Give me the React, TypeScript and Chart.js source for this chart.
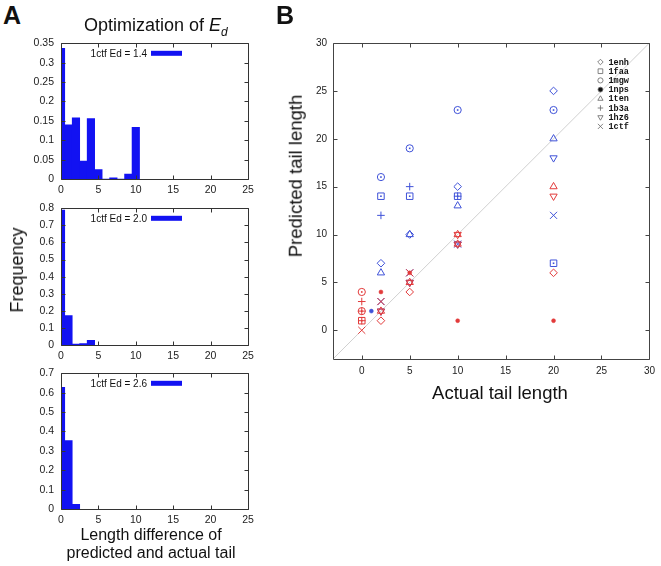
import React, { useEffect, useRef } from 'react';
import { Chart, registerables } from 'chart.js';
import { drawPoint } from 'chart.js/helpers';

Chart.register(...registerables);

// ---------------- data ----------------
const histBins1 = [0, 1, 2, 3, 4, 5, 6, 7, 8, 9, 10];
const histFreq1 = [0.337, 0.14, 0.158, 0.046, 0.156, 0.024, 0, 0.003, 0, 0.013, 0.133];
const histBins2 = [0, 1, 2, 3, 4];
const histFreq2 = [0.79, 0.172, 0.005, 0.008, 0.027];
const histBins3 = [0, 1, 2];
const histFreq3 = [0.627, 0.353, 0.024];
const histLabels = ['1ctf Ed = 1.4', '1ctf Ed = 2.0', '1ctf Ed = 2.6'];
const histXTicks = [0, 5, 10, 15, 20, 25];
const histYTicks1 = [0, 0.05, 0.1, 0.15, 0.2, 0.25, 0.3, 0.35];
const histYTicks2 = [0, 0.1, 0.2, 0.3, 0.4, 0.5, 0.6, 0.7, 0.8];
const histYTicks3 = [0, 0.1, 0.2, 0.3, 0.4, 0.5, 0.6, 0.7];

const scatterTicks = [0, 5, 10, 15, 20, 25, 30];
const scatterMin = -3;
const scatterMax = 30;
const diagonal = [-3, 30];
const proteins = ['1enh', '1faa', '1mgw', '1nps', '1ten', '1b3a', '1hz6', '1ctf'];

// [actual, predicted] — blue series
const blue1enh = [[2, 7], [5, 10], [10, 15], [20, 25]];
const blue1faa = [[2, 14], [5, 14], [10, 14], [20, 7]];
const blue1mgw = [[2, 16], [5, 19], [10, 23], [20, 23]];
const blue1nps = [[1, 2]];
const blue1ten = [[2, 6], [5, 10], [10, 13], [20, 20]];
const blue1b3a = [[2, 12], [5, 15], [10, 14]];
const blue1hz6 = [[2, 2], [5, 5], [10, 9], [20, 18]];
const blue1ctf = [[2, 3], [5, 6], [10, 9], [20, 12]];
// [actual, predicted] — red series
const red1enh = [[2, 1], [5, 4], [20, 6]];
const red1faa = [[0, 1]];
const red1mgw = [[0, 4], [0, 2]];
const red1nps = [[2, 4], [5, 6], [10, 1], [20, 1]];
const red1ten = [[2, 2], [5, 5], [10, 10], [10, 9], [20, 15]];
const red1b3a = [[0, 3], [0, 2], [0, 1]];
const red1hz6 = [[2, 2], [5, 5], [10, 10], [10, 9], [20, 14]];
const red1ctf = [[0, 0], [2, 3], [5, 6]];

const blueSeries = [blue1enh, blue1faa, blue1mgw, blue1nps, blue1ten, blue1b3a, blue1hz6, blue1ctf];
const redSeries = [red1enh, red1faa, red1mgw, red1nps, red1ten, red1b3a, red1hz6, red1ctf];

// ---------------- styles ----------------
const FONT = '"Liberation Sans", Arial, Helvetica, sans-serif';
const HIST_BLUE = '#1212f2';
const BLUE = '#3f52d8';
const RED = '#e23a3a';
const FRAME = '#333';

const shapes: Record<string, any> = {
  '1enh': { pointStyle: 'rectRot', radius: 3.8, rotation: 0, dot: false },
  '1faa': { pointStyle: 'rect', radius: 4.6, rotation: 0, dot: true },
  '1mgw': { pointStyle: 'circle', radius: 3.6, rotation: 0, dot: true },
  '1nps': { pointStyle: 'circle', radius: 2, rotation: 0, filled: true },
  '1ten': { pointStyle: 'triangle', radius: 4.2, rotation: 0 },
  '1b3a': { pointStyle: 'cross', radius: 3.8, rotation: 0 },
  '1hz6': { pointStyle: 'triangle', radius: 4.2, rotation: 180 },
  '1ctf': { pointStyle: 'crossRot', radius: 5, rotation: 0 },
};

// ---------------- plugins ----------------
const framePlugin = {
  id: 'gpFrame',
  afterDatasetsDraw(chart: any, _args: any, opts: any) {
    const { ctx, chartArea: a, scales } = chart;
    const tl = opts.tickLen ?? 4;
    const L = Math.round(a.left) + 0.5;
    const R = Math.round(a.right) + 0.5;
    const T = Math.round(a.top) + 0.5;
    const B = Math.round(a.bottom) + 0.5;
    ctx.save();
    ctx.strokeStyle = opts.color || FRAME;
    ctx.lineWidth = opts.lineWidth || 1;
    ctx.beginPath();
    ctx.rect(L, T, R - L, B - T);
    scales.x.ticks.forEach((t: any) => {
      const px = Math.round(scales.x.getPixelForValue(t.value)) + 0.5;
      ctx.moveTo(px, B);
      ctx.lineTo(px, B - tl);
      ctx.moveTo(px, T);
      ctx.lineTo(px, T + tl);
    });
    scales.y.ticks.forEach((t: any) => {
      const py = Math.round(scales.y.getPixelForValue(t.value)) + 0.5;
      ctx.moveTo(L, py);
      ctx.lineTo(L + tl, py);
      ctx.moveTo(R, py);
      ctx.lineTo(R - tl, py);
    });
    ctx.stroke();
    ctx.restore();
  },
};

const histKeyPlugin = {
  id: 'histKey',
  afterDatasetsDraw(chart: any, _args: any, opts: any) {
    const { ctx, chartArea: a } = chart;
    ctx.save();
    ctx.font = `10px ${FONT}`;
    ctx.textAlign = 'right';
    ctx.textBaseline = 'middle';
    ctx.fillStyle = '#111';
    ctx.fillText(opts.text, a.left + 86, a.top + 10.5);
    ctx.fillStyle = HIST_BLUE;
    ctx.fillRect(a.left + 90, a.top + 7.5, 31, 5);
    ctx.restore();
  },
};

const centerDotPlugin = {
  id: 'centerDot',
  afterDatasetsDraw(chart: any) {
    const { ctx } = chart;
    ctx.save();
    chart.data.datasets.forEach((ds: any, i: number) => {
      if (!ds.centerDot) return;
      const meta = chart.getDatasetMeta(i);
      ctx.fillStyle = ds.borderColor;
      meta.data.forEach((p: any) => {
        ctx.fillRect(p.x - 0.8, p.y - 0.8, 1.6, 1.6);
      });
    });
    ctx.restore();
  },
};

const scatterKeyPlugin = {
  id: 'scatterKey',
  afterDatasetsDraw(chart: any, _args: any, opts: any) {
    const { ctx, chartArea: a } = chart;
    ctx.save();
    const items: string[] = opts.items;
    items.forEach((name, i) => {
      const y = a.top + 19 + i * 9.2;
      const sx = a.right - 49;
      const s = shapes[name];
      ctx.strokeStyle = '#666';
      ctx.fillStyle = s.filled ? '#111' : 'rgba(0,0,0,0)';
      ctx.lineWidth = 0.8;
      drawPoint(ctx, {
        pointStyle: s.pointStyle,
        radius: s.filled ? 2.4 : s.radius * 0.72,
        rotation: s.rotation,
        borderWidth: 0.8,
      } as any, sx, y);
      ctx.fillStyle = '#111';
      ctx.font = `bold 8.5px "Liberation Mono", "DejaVu Sans Mono", monospace`;
      ctx.textAlign = 'left';
      ctx.textBaseline = 'middle';
      ctx.fillText(name, a.right - 41, y + 0.5);
    });
    ctx.restore();
  },
};

// ---------------- components ----------------
type Box = { left: number; top: number; width: number; height: number };
type Area = { left: number; top: number; right: number; bottom: number };

const fmt = (v: number) => String(Math.round(v * 100) / 100);

function Hist(props: { bins: number[]; freq: number[]; yTicks: number[]; label: string; box: Box; area: Area }) {
  const ref = useRef<HTMLCanvasElement>(null);
  const { bins, freq, yTicks, label, box, area } = props;
  useEffect(() => {
    const tickFont = { family: FONT, size: 10.5 };
    const chart = new Chart(ref.current!, {
      type: 'bar',
      data: {
        datasets: [
          {
            data: bins.map((b, i) => ({ x: b, y: freq[i] })),
            backgroundColor: HIST_BLUE,
            borderWidth: 0,
            barPercentage: 1,
            categoryPercentage: 1,
          } as any,
        ],
      },
      options: {
        animation: false,
        responsive: false,
        maintainAspectRatio: false,
        layout: {
          padding: {
            left: 0,
            top: area.top - box.top,
            right: box.left + box.width - area.right,
            bottom: 0,
          },
        },
        scales: {
          x: {
            type: 'linear',
            min: histXTicks[0],
            max: histXTicks[histXTicks.length - 1],
            offset: false,
            grid: { display: false, drawTicks: false },
            border: { display: false },
            ticks: { padding: 5, font: tickFont, color: '#222', maxRotation: 0, autoSkip: false, callback: (v: any) => fmt(v) },
            afterBuildTicks: (s: any) => {
              s.ticks = histXTicks.map((v) => ({ value: v }));
            },
            afterFit: (s: any) => {
              s.height = box.top + box.height - area.bottom;
            },
          },
          y: {
            type: 'linear',
            min: yTicks[0],
            max: yTicks[yTicks.length - 1],
            grid: { display: false, drawTicks: false },
            border: { display: false },
            ticks: { padding: 7, font: tickFont, color: '#222', autoSkip: false, callback: (v: any) => fmt(v) },
            afterBuildTicks: (s: any) => {
              s.ticks = yTicks.map((v) => ({ value: v }));
            },
            afterFit: (s: any) => {
              s.width = area.left - box.left;
            },
          },
        },
        plugins: {
          legend: { display: false },
          tooltip: { enabled: false },
          gpFrame: { tickLen: 4, color: FRAME },
          histKey: { text: label },
        } as any,
      },
      plugins: [framePlugin, histKeyPlugin],
    });
    return () => chart.destroy();
  }, []);
  return (
    <canvas
      ref={ref}
      width={box.width}
      height={box.height}
      style={{ position: 'absolute', left: box.left, top: box.top, width: box.width, height: box.height }}
    />
  );
}

function Scatter() {
  const ref = useRef<HTMLCanvasElement>(null);
  const box: Box = { left: 300, top: 30, width: 361, height: 355 };
  const area: Area = { left: 333, top: 43, right: 652, bottom: 359 };
  useEffect(() => {
    const tickFont = { family: FONT, size: 10 };
    const mk = (series: number[][][], color: string) =>
      series.map((pts, i) => {
        const s = shapes[proteins[i]];
        return {
          type: 'scatter',
          label: proteins[i],
          data: pts.map(([x, y]) => ({ x, y })),
          pointStyle: s.pointStyle,
          pointRadius: s.radius,
          pointRotation: s.rotation,
          borderColor: color,
          backgroundColor: s.filled ? color : 'rgba(0,0,0,0)',
          pointBorderWidth: s.filled ? 0.5 : 1,
          showLine: false,
          centerDot: !!s.dot,
          order: 1,
        } as any;
      });
    const datasets: any[] = [
      ...mk(redSeries, RED),
      ...mk(blueSeries, BLUE),
      {
        type: 'line',
        label: 'diagonal',
        data: diagonal.map((v) => ({ x: v, y: v })),
        borderColor: '#c4c4c4',
        borderWidth: 0.8,
        pointRadius: 0,
        order: 10,
      },
    ];
    const chart = new Chart(ref.current!, {
      type: 'scatter',
      data: { datasets },
      options: {
        animation: false,
        responsive: false,
        maintainAspectRatio: false,
        layout: {
          padding: {
            left: 0,
            top: area.top - box.top,
            right: box.left + box.width - area.right,
            bottom: 0,
          },
        },
        scales: {
          x: {
            type: 'linear',
            min: scatterMin,
            max: scatterMax,
            grid: { display: false, drawTicks: false },
            border: { display: false },
            ticks: { padding: 6, font: tickFont, color: '#222', maxRotation: 0, autoSkip: false, callback: (v: any) => fmt(v) },
            afterBuildTicks: (s: any) => {
              s.ticks = scatterTicks.map((v) => ({ value: v }));
            },
            afterFit: (s: any) => {
              s.height = box.top + box.height - area.bottom;
            },
          },
          y: {
            type: 'linear',
            min: scatterMin,
            max: scatterMax,
            grid: { display: false, drawTicks: false },
            border: { display: false },
            ticks: { padding: 6, font: tickFont, color: '#222', autoSkip: false, callback: (v: any) => fmt(v) },
            afterBuildTicks: (s: any) => {
              s.ticks = scatterTicks.map((v) => ({ value: v }));
            },
            afterFit: (s: any) => {
              s.width = area.left - box.left;
            },
          },
        },
        plugins: {
          legend: { display: false },
          tooltip: { enabled: false },
          gpFrame: { tickLen: 4, color: '#444' },
          scatterKey: { items: proteins },
        } as any,
      },
      plugins: [framePlugin, centerDotPlugin, scatterKeyPlugin],
    });
    return () => chart.destroy();
  }, []);
  return (
    <canvas
      ref={ref}
      width={box.width}
      height={box.height}
      style={{ position: 'absolute', left: box.left, top: box.top, width: box.width, height: box.height }}
    />
  );
}

const txt = (extra: React.CSSProperties): React.CSSProperties => ({
  position: 'absolute',
  fontFamily: FONT,
  color: '#111',
  whiteSpace: 'nowrap',
  lineHeight: 1,
  ...extra,
});

export default function App() {
  return (
    <div style={{ position: 'absolute', left: 0, top: 0, width: 661, height: 566, background: '#fff', overflow: 'hidden' }}>
      <Hist
        bins={histBins1}
        freq={histFreq1}
        yTicks={histYTicks1}
        label={histLabels[0]}
        box={{ left: 20, top: 30, width: 241, height: 170 }}
        area={{ left: 61, top: 42, right: 248, bottom: 179 }}
      />
      <Hist
        bins={histBins2}
        freq={histFreq2}
        yTicks={histYTicks2}
        label={histLabels[1]}
        box={{ left: 20, top: 195, width: 241, height: 170 }}
        area={{ left: 61, top: 207, right: 248, bottom: 345 }}
      />
      <Hist
        bins={histBins3}
        freq={histFreq3}
        yTicks={histYTicks3}
        label={histLabels[2]}
        box={{ left: 20, top: 360, width: 241, height: 169 }}
        area={{ left: 61, top: 372, right: 248, bottom: 509 }}
      />
      <Scatter />

      <div style={txt({ left: 3, top: 3, fontSize: 25, fontWeight: 'bold' })}>A</div>
      <div style={txt({ left: 276, top: 3, fontSize: 25, fontWeight: 'bold' })}>B</div>
      <div style={txt({ left: 84, top: 16, fontSize: 18 })}>
        Optimization of <i>E</i>
        <sub style={{ fontSize: 12, verticalAlign: 'sub' }}>
          <i>d</i>
        </sub>
      </div>
      <div style={txt({ left: 17, top: 270, fontSize: 18, transform: 'translate(-50%, -50%) rotate(-90deg)' })}>Frequency</div>
      <div style={txt({ left: 151, top: 526, fontSize: 16, lineHeight: '18px', textAlign: 'center', transform: 'translateX(-50%)' })}>
        Length difference of
        <br />
        predicted and actual tail
      </div>
      <div style={txt({ left: 296, top: 176, fontSize: 18.5, transform: 'translate(-50%, -50%) rotate(-90deg)' })}>
        Predicted tail length
      </div>
      <div style={txt({ left: 500, top: 393, fontSize: 18.5, transform: 'translate(-50%, -50%)' })}>Actual tail length</div>
    </div>
  );
}
